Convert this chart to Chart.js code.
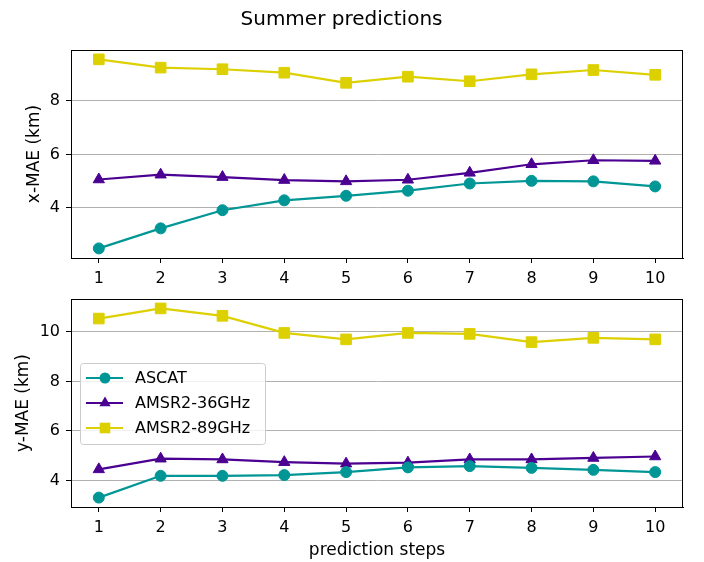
<!DOCTYPE html>
<html>
<head>
<meta charset="utf-8">
<script src="https://cdn.jsdelivr.net/npm/chart.js@4.4.1/dist/chart.umd.min.js"></script>
<style>
  body { margin: 0; background: #fff; }
  #wrap { position: relative; width: 704px; height: 562px; }
  #wrap canvas { position: absolute; left: 0; }
</style>
</head>
<body>
<div id="wrap">
  <canvas id="top" width="704" height="290" style="top:0"></canvas>
  <canvas id="bottom" width="704" height="272" style="top:290px"></canvas>
</div>
<script>
// data
var steps = [1, 2, 3, 4, 5, 6, 7, 8, 9, 10];
var seriesNames = ['ASCAT', 'AMSR2-36GHz', 'AMSR2-89GHz'];
var ascatX = [2.48, 3.23, 3.91, 4.28, 4.45, 4.64, 4.91, 5.01, 4.99, 4.80];
var amsr36X = [5.06, 5.24, 5.15, 5.04, 4.99, 5.05, 5.31, 5.63, 5.78, 5.76];
var amsr89X = [9.56, 9.25, 9.19, 9.06, 8.68, 8.91, 8.74, 9.00, 9.16, 8.98];
var ascatY = [3.31, 4.19, 4.19, 4.22, 4.34, 4.53, 4.58, 4.51, 4.43, 4.34];
var amsr36Y = [4.45, 4.88, 4.85, 4.74, 4.68, 4.72, 4.85, 4.85, 4.91, 4.97];
var amsr89Y = [10.54, 10.95, 10.65, 9.96, 9.70, 9.96, 9.92, 9.59, 9.76, 9.70];
var topTicks = [4, 6, 8];
var bottomTicks = [4, 6, 8, 10];

var colors = ['#009696', '#4b0092', '#ddd000'];
var shapes = ['circle', 'triangle', 'rect'];
var radii = [5.5, 6.5, 7.5];
var FONT = 'DejaVu Sans';

function pts(values) {
    return steps.map(function (s, i) { return { x: s, y: values[i] }; });
}

function makeSets(lists) {
    return lists.map(function (vals, i) {
        return {
            label: seriesNames[i],
            data: pts(vals),
            borderColor: colors[i],
            backgroundColor: colors[i],
            borderWidth: 2.2,
            pointStyle: shapes[i],
            pointRadius: radii[i],
            pointHoverRadius: radii[i],
            pointBorderWidth: 1,
            pointBorderColor: colors[i],
            tension: 0
        };
    });
}

// black box round the plot area, like matplotlib spines
var frame = {
    id: 'frame',
    afterDatasetsDraw: function (chart) {
        var a = chart.chartArea, c = chart.ctx;
        c.save();
        c.strokeStyle = '#000';
        c.lineWidth = 1;
        c.strokeRect(Math.round(a.left) + 0.5, Math.round(a.top) + 0.5,
            Math.round(a.right - a.left) - 1, Math.round(a.bottom - a.top));
        c.restore();
    }
};

function marker(c, shape, x, y, r) {
    c.beginPath();
    if (shape === 'circle') {
        c.arc(x, y, r, 0, Math.PI * 2);
    } else if (shape === 'triangle') {
        c.moveTo(x, y - r);
        c.lineTo(x + r * Math.sqrt(3) / 2, y + r / 2);
        c.lineTo(x - r * Math.sqrt(3) / 2, y + r / 2);
        c.closePath();
    } else {
        var s = r * Math.SQRT1_2;
        c.rect(x - s, y - s, s * 2, s * 2);
    }
    c.fill();
}

// legend drawn inside the axes, center left
var innerLegend = {
    id: 'innerLegend',
    afterDraw: function (chart) {
        var a = chart.chartArea, c = chart.ctx;
        var w = 185, h = 81;
        var x0 = a.left + 9;
        var y0 = Math.round((a.top + a.bottom) / 2 - h / 2);
        c.save();
        c.fillStyle = 'rgba(255,255,255,0.8)';
        c.strokeStyle = '#cccccc';
        c.lineWidth = 1;
        c.beginPath();
        c.roundRect(x0 + 0.5, y0 + 0.5, w, h, 3);
        c.fill();
        c.stroke();
        c.font = '16px "' + FONT + '"';
        c.textBaseline = 'middle';
        chart.data.datasets.forEach(function (ds, i) {
            var y = y0 + 15 + i * 25;
            c.strokeStyle = ds.borderColor;
            c.lineWidth = 2.2;
            c.beginPath();
            c.moveTo(x0 + 6, y);
            c.lineTo(x0 + 43, y);
            c.stroke();
            c.fillStyle = ds.backgroundColor;
            marker(c, ds.pointStyle, x0 + 25, y, ds.pointRadius);
            c.fillStyle = '#000';
            c.fillText(ds.label, x0 + 55, y + 1);
        });
        c.restore();
    }
};

function noPad(s) {
    s.paddingTop = 0;
    s.paddingBottom = 0;
    s.paddingLeft = 0;
    s.paddingRight = 0;
}

function xAxis(height, showTitle) {
    return {
        type: 'linear',
        min: 0.55,
        max: 10.45,
        afterBuildTicks: function (s) { s.ticks = steps.map(function (v) { return { value: v }; }); },
        afterFit: function (s) { s.height = height; noPad(s); },
        grid: { drawOnChartArea: false, tickLength: 5, tickColor: '#000' },
        border: { color: '#000' },
        ticks: { color: '#000', padding: 6, maxRotation: 0, font: { family: FONT, size: 16 } },
        title: {
            display: showTitle,
            text: 'prediction steps',
            color: '#000',
            padding: { top: 1, bottom: 1 },
            font: { family: FONT, size: 17 }
        }
    };
}

function yAxis(min, max, tickList, label, titlePad) {
    return {
        min: min,
        max: max,
        afterBuildTicks: function (s) { s.ticks = tickList.map(function (v) { return { value: v }; }); },
        afterFit: function (s) { s.width = 71; noPad(s); },
        grid: { color: '#b0b0b0', tickLength: 5, tickColor: '#000' },
        border: { color: '#000' },
        ticks: { color: '#000', padding: 6, font: { family: FONT, size: 16 } },
        title: {
            display: true,
            text: label,
            color: '#000',
            padding: { top: titlePad, bottom: titlePad },
            font: { family: FONT, size: 17 }
        }
    };
}

var chartTop = new Chart(document.getElementById('top'), {
    type: 'line',
    data: { datasets: makeSets([ascatX, amsr36X, amsr89X]) },
    options: {
        responsive: false,
        animation: false,
        devicePixelRatio: 1,
        layout: { padding: { left: 0, right: 21, top: 0, bottom: 0 } },
        plugins: {
            legend: { display: false },
            tooltip: { enabled: false },
            title: {
                display: true,
                text: 'Summer predictions',
                color: '#000',
                font: { family: FONT, size: 20, weight: 'normal' },
                padding: { top: 8, bottom: 18 }
            }
        },
        scales: {
            x: xAxis(32, false),
            y: yAxis(2.12, 9.91, topTicks, 'x-MAE (km)', 24.3)
        }
    },
    plugins: [frame]
});

var chartBottom = new Chart(document.getElementById('bottom'), {
    type: 'line',
    data: { datasets: makeSets([ascatY, amsr36Y, amsr89Y]) },
    options: {
        responsive: false,
        animation: false,
        devicePixelRatio: 1,
        layout: { padding: { left: 0, right: 21, top: 9, bottom: 0 } },
        plugins: {
            legend: { display: false },
            tooltip: { enabled: false }
        },
        scales: {
            x: xAxis(55, true),
            y: yAxis(2.93, 11.33, bottomTicks, 'y-MAE (km)', 13.8)
        }
    },
    plugins: [frame, innerLegend]
});
</script>
</body>
</html>
